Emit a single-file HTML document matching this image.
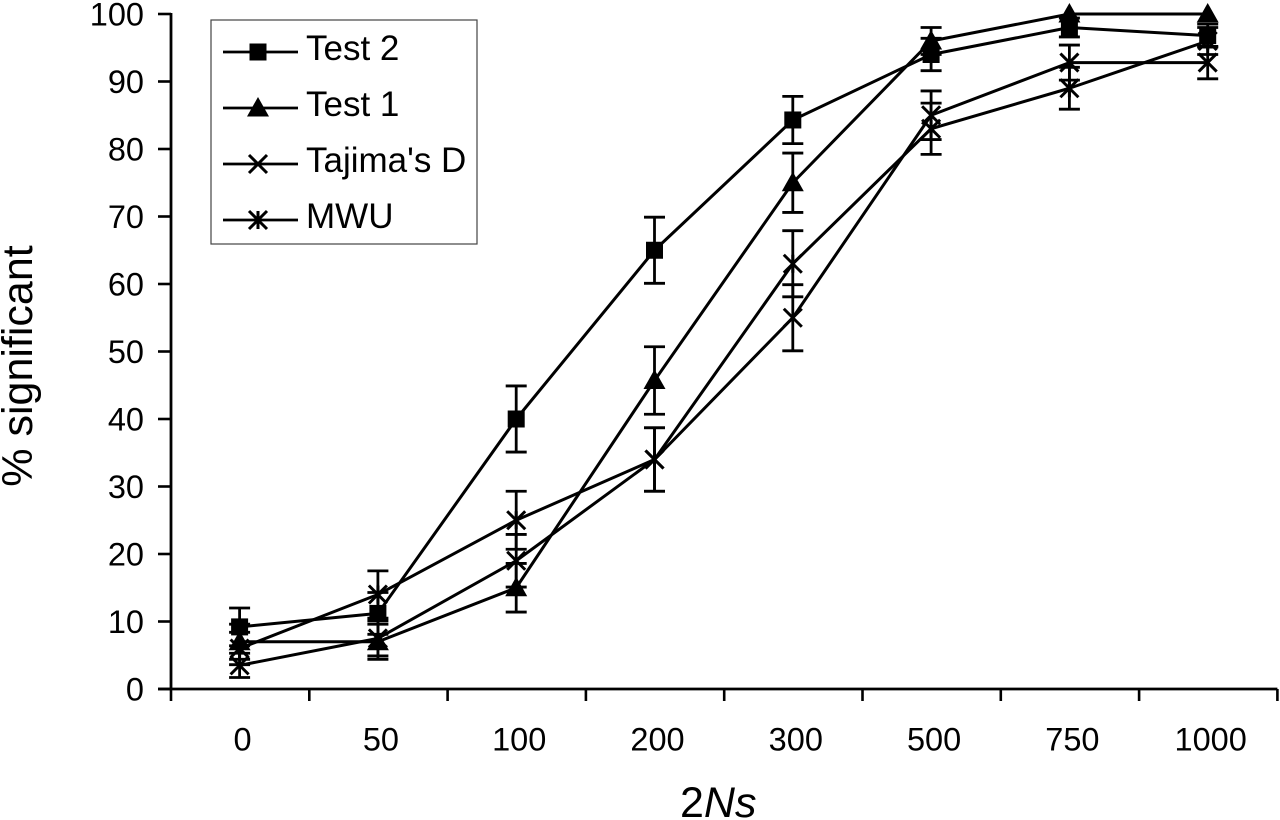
<!DOCTYPE html>
<html lang="en">
<head>
<meta charset="utf-8">
<title>% significant vs 2Ns</title>
<style>
html,body{margin:0;padding:0;background:#fff;}
svg{display:block;filter:blur(0.35px);}
text{font-family:"Liberation Sans",Arial,sans-serif;fill:#000;}
</style>
</head>
<body>
<svg id="chart" xmlns="http://www.w3.org/2000/svg" width="1280" height="820" viewBox="0 0 1280 820">
  <rect x="0" y="0" width="1280" height="820" fill="#ffffff"/>
  <g id="error-bars"></g>
  <g id="series-lines"></g>
  <g id="markers"></g>
  <g id="axes"></g>
  <text transform="translate(32,366) rotate(-90)" text-anchor="middle" font-size="43">% significant</text>
  <text x="680" y="817" font-size="43">2<tspan font-style="italic">Ns</tspan></text>
  <g>
    <rect x="211" y="20" width="266" height="224" fill="#ffffff" stroke="#444" stroke-width="1.2"/>
    <g id="legend-entries"></g>
  </g>
</svg>
<script>
const categories = ['0', '50', '100', '200', '300', '500', '750', '1000'];
const yTicks = [0, 10, 20, 30, 40, 50, 60, 70, 80, 90, 100];
const seriesNames = ['Test 2', 'Test 1', "Tajima's D", 'MWU'];
const seriesMarkers = ['square', 'triangle', 'cross', 'asterisk'];
const test2Values = [9.2, 11.2, 40, 65, 84.3, 94, 98, 96.8];
const test1Values = [7, 7, 15, 45.7, 75, 96, 100, 100];
const tajimaValues = [3.5, 7.5, 19, 34, 55, 85, 92.8, 92.8];
const mwuValues = [6, 14, 25, 34, 63, 83, 89, 96];
const test2Errors = [2.8, 3.1, 4.9, 4.9, 3.5, 2.4, 1.4, 1.7];
const test1Errors = [2.6, 2.6, 3.6, 5, 4.4, 2, 0, 0];
const tajimaErrors = [1.8, 2.6, 3.9, 4.7, 4.9, 3.6, 2.6, 2.4];
const mwuErrors = [2.4, 3.5, 4.3, 4.7, 4.9, 3.8, 3.1, 2];

const allValues = [test2Values, test1Values, tajimaValues, mwuValues];
const allErrors = [test2Errors, test1Errors, tajimaErrors, mwuErrors];
const NS = 'http://www.w3.org/2000/svg';
const INK = '#000';

function xBand(i) { return 171 + 138.3 * i; }
function xScale(i) { return xBand(i) + 68.6; }
function yScale(v) { return 689 - v * 6.75; }

function make(parent, tag, attrs, text) {
  const el = document.createElementNS(NS, tag);
  for (const k in attrs) el.setAttribute(k, attrs[k]);
  if (text !== undefined) el.textContent = text;
  parent.appendChild(el);
  return el;
}

function drawMarker(parent, type, x, y, name) {
  let el;
  if (type === 'square') {
    el = make(parent, 'rect', { x: x - 8.5, y: y - 8.5, width: 17, height: 17, fill: INK });
  } else if (type === 'triangle') {
    el = make(parent, 'polygon', { points: (x) + ',' + (y - 11) + ' ' + (x + 11) + ',' + (y + 8.5) + ' ' + (x - 11) + ',' + (y + 8.5), fill: INK });
  } else {
    const r = 9;
    let d = 'M' + (x - r) + ' ' + (y - r) + 'L' + (x + r) + ' ' + (y + r) + 'M' + (x - r) + ' ' + (y + r) + 'L' + (x + r) + ' ' + (y - r);
    if (type === 'asterisk') d += 'M' + x + ' ' + (y - r) + 'L' + x + ' ' + (y + r);
    el = make(parent, 'path', { d: d, stroke: INK, 'stroke-width': 3, fill: 'none' });
  }
  
  
  return el;
}

const axes = document.getElementById('axes');
const yAxis = make(axes, 'line', { x1: 171, y1: yScale(100) - 1, x2: 171, y2: yScale(0), stroke: INK, 'stroke-width': 2.8 });


const xAxis = make(axes, 'line', { x1: 158, y1: yScale(0), x2: xBand(categories.length), y2: yScale(0), stroke: INK, 'stroke-width': 2.8 });



yTicks.forEach(function (t) {
  const tick = make(axes, 'line', { x1: 158, y1: yScale(t), x2: 171, y2: yScale(t), stroke: INK, 'stroke-width': 2.6 });
  
  
  const label = make(axes, 'text', { x: 144, y: yScale(t) + 11.5, 'text-anchor': 'end', 'font-size': 32.5 }, String(t));
  
  
});

for (let i = 0; i <= categories.length; i++) {
  const tick = make(axes, 'line', { x1: xBand(i), y1: yScale(0), x2: xBand(i), y2: 701, stroke: INK, 'stroke-width': 2.6 });
  
  
}
categories.forEach(function (c, i) {
  const label = make(axes, 'text', { x: xScale(i) + 3, y: 750.5, 'text-anchor': 'middle', 'font-size': 32.5 }, c);
  
  
});

const errorGroup = document.getElementById('error-bars');
const lineGroup = document.getElementById('series-lines');
const markerGroup = document.getElementById('markers');

allValues.forEach(function (values, s) {
  const errs = allErrors[s];
  values.forEach(function (v, i) {
    if (errs[i] <= 0) return;
    const x = xScale(i);
    const top = Math.min(v + errs[i], 100);
    const bottom = v - errs[i];
    const d = 'M' + x + ' ' + yScale(top) + 'L' + x + ' ' + yScale(bottom) +
      'M' + (x - 10.5) + ' ' + yScale(top) + 'L' + (x + 10.5) + ' ' + yScale(top) +
      'M' + (x - 10.5) + ' ' + yScale(bottom) + 'L' + (x + 10.5) + ' ' + yScale(bottom);
    const bar = make(errorGroup, 'path', { d: d, stroke: INK, 'stroke-width': 2.8, fill: 'none' });
    
    
  });
  const pts = values.map(function (v, i) { return xScale(i) + ',' + yScale(v); }).join(' ');
  const line = make(lineGroup, 'polyline', { points: pts, fill: 'none', stroke: INK, 'stroke-width': 3, 'stroke-linejoin': 'round' });
  
  
  values.forEach(function (v, i) {
    drawMarker(markerGroup, seriesMarkers[s], xScale(i), yScale(v), 'data-point');
  });
});

const legendGroup = document.getElementById('legend-entries');
seriesNames.forEach(function (name, s) {
  const y = 52 + s * 56;
  const entry = make(legendGroup, 'g', {});
  
  
  const sample = make(entry, 'line', { x1: 223, y1: y, x2: 298, y2: y, stroke: INK, 'stroke-width': 2.8 });
  
  
  drawMarker(entry, seriesMarkers[s], 258, y, 'legend-marker');
  const label = make(entry, 'text', { x: 306, y: y + 8, 'font-size': 35 }, name);
  
  
});
</script>
</body>
</html>
